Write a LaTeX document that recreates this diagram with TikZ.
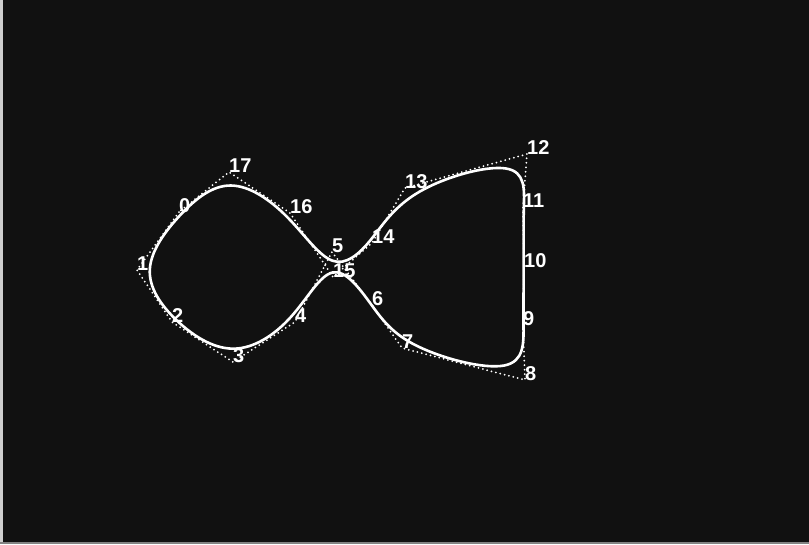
\documentclass[tikz,border=0pt]{standalone}
\usepackage{fontspec}
\setsansfont{Liberation Sans}
\usetikzlibrary{calc}
\definecolor{bg}{HTML}{111111}
\definecolor{edge}{HTML}{CFCFCF}
\tikzset{
  curve/.style={draw=white, line width=2.6pt, line join=round},
  ctrlpoly/.style={draw=white, line width=2pt, line cap=round, dash pattern=on 0pt off 4.5pt},
  lbl/.style={anchor=base west, inner sep=0pt, text=white, font=\sffamily\bfseries\fontsize{20}{20}\selectfont},
}
\begin{document}
\begin{tikzpicture}[x=1pt, y=-1pt]
  \fill[bg] (0,0) rectangle (809,544);
  \useasboundingbox (0,0) rectangle (809,544);
  \fill[edge] (0,0) rectangle (2.5,544);
  \fill[edge!60!bg] (0,541.5) rectangle (809,544);
  % control points
  \coordinate (P0) at (179,212);
  \coordinate (P1) at (137,270);
  \coordinate (P2) at (172,322);
  \coordinate (P3) at (233,362);
  \coordinate (P4) at (295,322);
  \coordinate (P5) at (332,252);
  \coordinate (P6) at (372,305);
  \coordinate (P7) at (402,348);
  \coordinate (P8) at (525,380);
  \coordinate (P9) at (523,325);
  \coordinate (P10) at (524,267);
  \coordinate (P11) at (523,207);
  \coordinate (P12) at (527,154);
  \coordinate (P13) at (405,188);
  \coordinate (P14) at (372,243);
  \coordinate (P15) at (333,277);
  \coordinate (P16) at (290,213);
  \coordinate (P17) at (229,172);
  % B-spline -> Bezier points
  \foreach \i [evaluate=\i as \h using {int(mod(\i+17,18))},
               evaluate=\i as \j using {int(mod(\i+1,18))}] in {0,...,17} {
    \coordinate (S\i) at ($0.1666667*(P\h)+0.6666667*(P\i)+0.1666667*(P\j)$);
    \coordinate (A\i) at ($(P\i)!0.3333333!(P\j)$);
    \coordinate (B\i) at ($(P\i)!0.6666667!(P\j)$);
  }
  % control polygon
  \draw[ctrlpoly] (P0) -- (P1) -- (P2) -- (P3) -- (P4) -- (P5) -- (P6) -- (P7) -- (P8)
    -- (P9) -- (P10) -- (P11) -- (P12) -- (P13) -- (P14) -- (P15) -- (P16) -- (P17) -- cycle;
  % curve
  \draw[curve] (S0)
    \foreach \i [evaluate=\i as \j using {int(\i+1)}] in {0,...,16} {
      .. controls (A\i) and (B\i) .. (S\j)
    }
    .. controls (A17) and (B17) .. (S0) -- cycle;
  % labels
  \foreach \i in {0,...,17} {
    \node[lbl] (L\i) at (P\i) {\i};
  }
\end{tikzpicture}
\end{document}
